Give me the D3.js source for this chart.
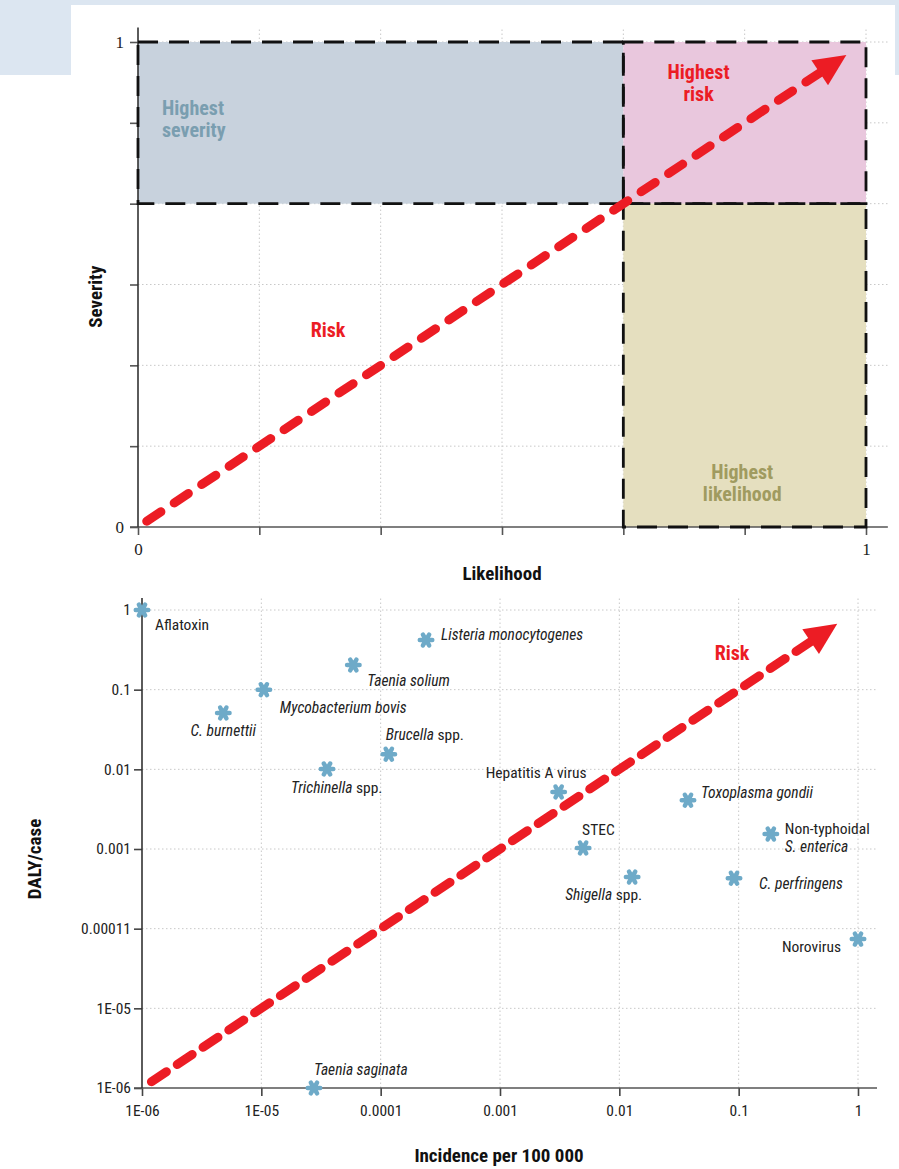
<!DOCTYPE html>
<html><head><meta charset="utf-8">
<script src="https://cdn.jsdelivr.net/npm/d3@7"></script>
<style>
html,body{margin:0;padding:0;background:#fff;}
svg{display:block;}
text{font-family:"Liberation Sans Narrow","Roboto Condensed","DejaVu Sans Condensed","Liberation Sans",sans-serif;}
</style></head>
<body>
<script>
// ---------- data ----------
const topTicks = [0, 1/6, 2/6, 3/6, 4/6, 5/6, 1];
const topTickLabels = ["0", "", "", "", "", "", "1"];
const zoneNames = ["Highest severity", "Highest risk", "Highest likelihood"];
const zoneX0 = [0, 4/6, 4/6];
const zoneX1 = [4/6, 1, 1];
const zoneY0 = [4/6, 4/6, 0];
const zoneY1 = [1, 1, 4/6];
const topArrowFrom = [0.012, 0.012];
const topArrowTo = [0.973, 0.973];

const pathogens = ["Aflatoxin","Listeria monocytogenes","Taenia solium","Mycobacterium bovis","C. burnettii","Brucella spp.","Trichinella spp.","Hepatitis A virus","Toxoplasma gondii","STEC","Non-typhoidal S. enterica","Shigella spp.","C. perfringens","Norovirus","Taenia saginata"];
const incidence = [1e-6, 2.4e-4, 5.9e-5, 1.05e-5, 4.8e-6, 1.17e-4, 3.55e-5, 3.1e-3, 0.0376, 4.97e-3, 0.186, 0.0128, 0.0914, 1.0, 2.76e-5];
const dalyPerCase = [1.0, 0.42, 0.204, 0.1, 0.051, 0.0155, 0.0101, 0.0052, 0.0041, 0.00103, 0.00154, 0.000445, 0.00043, 0.000074, 1e-6];
const logTicks = [1e-6, 1e-5, 1e-4, 1e-3, 1e-2, 1e-1, 1];
const xLogLabels = ["1E-06","1E-05","0.0001","0.001","0.01","0.1","1"];
const yLogLabels = ["1E-06","1E-05","0.00011","0.001","0.01","0.1","1"];
const bottomArrowFrom = [1.2e-6, 1.2e-6];
const bottomArrowTo = [0.67, 0.67];

// label text pieces [text, italic] per line
const labelPieces = [
  [[["Aflatoxin",false]]],
  [[["Listeria monocytogenes",true]]],
  [[["Taenia solium",true]]],
  [[["Mycobacterium bovis",true]]],
  [[["C. burnettii",true]]],
  [[["Brucella",true],[" spp.",false]]],
  [[["Trichinella",true],[" spp.",false]]],
  [[["Hepatitis A virus",false]]],
  [[["Toxoplasma gondii",true]]],
  [[["STEC",false]]],
  [[["Non-typhoidal",false]],[["S. enterica",true]]],
  [[["Shigella",true],[" spp.",false]]],
  [[["C. perfringens",true]]],
  [[["Norovirus",false]]],
  [[["Taenia saginata",true]]]
];
// label layout: [dx, dy, anchor] relative to the marker
const labelLayout = [
  [13, 14, "start"], [15, -6, "start"], [14, 16, "start"], [16, 18, "start"],
  [0, 18, "middle"], [-3, -20, "start"], [-36, 19, "start"], [-73, -19, "start"],
  [13, -8, "start"], [-1, -18, "start"], [14, -6, "start"], [-67, 17, "start"],
  [25, 5, "start"], [-17, 7, "end"], [0, -19, "start"]
];

// ---------- drawing ----------
const W = 899, H = 1169;
const svg = d3.select("body").append("svg").attr("width", W).attr("height", H);
const red = "#ec1c24", blue = "#6eaac8";

// frame
svg.append("rect").attr("x",0).attr("y",0).attr("width",W).attr("height",75).attr("fill","#dce6f1");
svg.append("rect").attr("x",71).attr("y",5).attr("width",824).attr("height",75).attr("fill","#fff");

// ===== top chart =====
const xT = d3.scaleLinear().domain([0,1]).range([138,866]);
const yT = d3.scaleLinear().domain([0,1]).range([527,42]);
const gT = svg.append("g");

gT.selectAll(".vg").data(topTicks.slice(1)).join("line")
  .attr("x1", d=>xT(d)).attr("x2", d=>xT(d)).attr("y1", yT(0)).attr("y2", yT(1.03))
  .attr("stroke","#c8c8c8").attr("stroke-width",1).attr("stroke-dasharray","1.5,2.5");
gT.selectAll(".hg").data(topTicks.slice(1)).join("line")
  .attr("x1", xT(0)).attr("x2", xT(1.03)).attr("y1", d=>yT(d)).attr("y2", d=>yT(d))
  .attr("stroke","#c8c8c8").attr("stroke-width",1).attr("stroke-dasharray","1.5,2.5");

const zoneFill = ["#c8d2dd", "#e9c7dd", "#e5dfbf"];
gT.selectAll(".zone").data(zoneNames).join("rect")
  .attr("x", (d,i)=>xT(zoneX0[i])).attr("width", (d,i)=>xT(zoneX1[i])-xT(zoneX0[i]))
  .attr("y", (d,i)=>yT(zoneY1[i])).attr("height", (d,i)=>yT(zoneY0[i])-yT(zoneY1[i]))
  .attr("fill", (d,i)=>zoneFill[i]);

const axXT = d3.axisBottom(xT).tickValues(topTicks).tickFormat((d,i)=>topTickLabels[i]).tickSize(8).tickPadding(8);
const axYT = d3.axisLeft(yT).tickValues(topTicks).tickFormat((d,i)=>topTickLabels[i]).tickSize(8).tickPadding(6);
const gx = gT.append("g").attr("transform",`translate(0,${yT(0)})`).call(axXT);
const gy = gT.append("g").attr("transform",`translate(${xT(0)},0)`).call(axYT);
[gx, gy].forEach(g=>{
  g.select(".domain").remove();
  g.selectAll(".tick line").attr("stroke","#555").attr("stroke-width",1.6);
  g.selectAll(".tick text").attr("font-size",17).attr("fill","#222").style("font-family",'"Liberation Serif",serif');
});
gT.append("line").attr("x1",xT(0)-8).attr("x2",xT(1.03)).attr("y1",yT(0)).attr("y2",yT(0)).attr("stroke","#555").attr("stroke-width",1.6);
gT.append("line").attr("x1",xT(0)).attr("x2",xT(0)).attr("y1",yT(0)).attr("y2",yT(1.03)).attr("stroke","#333").attr("stroke-width",1.6);

gT.selectAll(".zb").data(zoneNames).join("rect")
  .attr("x", (d,i)=>xT(zoneX0[i])).attr("width", (d,i)=>xT(zoneX1[i])-xT(zoneX0[i]))
  .attr("y", (d,i)=>yT(zoneY1[i])).attr("height", (d,i)=>yT(zoneY0[i])-yT(zoneY1[i]))
  .attr("fill","none").attr("stroke","#111").attr("stroke-width",2.8).attr("stroke-dasharray","20,11");

const zoneLabelColor = ["#7a9eb0", red, "#a09b60"];
const zoneLabelPos = [[0.033, 0.85, "start"], [0.77, 0.923, "middle"], [0.83, 0.1, "middle"]];
zoneNames.forEach((n,i)=>{
  const words = n.split(" ");
  const t = gT.append("text").attr("text-anchor", zoneLabelPos[i][2])
    .attr("font-size",20).attr("font-weight","bold").attr("fill", zoneLabelColor[i]);
  words.forEach((w,j)=>t.append("tspan").attr("x", xT(zoneLabelPos[i][0])).attr("y", yT(zoneLabelPos[i][1]) + j*22).text(w));
});
gT.append("text").attr("x", xT(0.261)).attr("y", yT(0.392)).attr("text-anchor","middle")
  .attr("font-size",20).attr("font-weight","bold").attr("fill",red).text("Risk");

gT.append("text").attr("transform",`translate(102,${yT(0.475)}) rotate(-90)`).attr("text-anchor","middle")
  .attr("font-size",19).attr("font-weight","bold").attr("fill","#111").text("Severity");
gT.append("text").attr("x", xT(0.5)).attr("y", 580).attr("text-anchor","middle")
  .attr("font-size",19).attr("font-weight","bold").attr("fill","#111").text("Likelihood");

function arrow(g, p0, p1, dash){
  const dx = p1[0]-p0[0], dy = p1[1]-p0[1];
  const L = Math.hypot(dx,dy), ux = dx/L, uy = dy/L;
  const headLen = 32, headW = 15;
  const bx = p1[0]-ux*headLen, by = p1[1]-uy*headLen;
  g.append("line").attr("x1",p0[0]).attr("y1",p0[1]).attr("x2",bx+ux*4).attr("y2",by+uy*4)
    .attr("stroke",red).attr("stroke-width",9).attr("stroke-linecap","round").attr("stroke-dasharray",dash);
  g.append("path").attr("d", `M${p1[0]},${p1[1]} L${bx - uy*headW},${by + ux*headW} L${bx + uy*headW},${by - ux*headW} Z`)
    .attr("fill",red);
}
arrow(gT, [xT(topArrowFrom[0]), yT(topArrowFrom[1])], [xT(topArrowTo[0]), yT(topArrowTo[1])], "17,16");

// ===== bottom chart =====
const xB = d3.scaleLog().domain([1e-6,1]).range([142,858]);
const yB = d3.scaleLog().domain([1e-6,1]).range([1088,610]);
const gB = svg.append("g");

gB.selectAll(".vg").data(logTicks.slice(1)).join("line")
  .attr("x1", d=>xB(d)).attr("x2", d=>xB(d)).attr("y1", yB(1e-6)).attr("y2", 598)
  .attr("stroke","#c8c8c8").attr("stroke-width",1).attr("stroke-dasharray","1.5,2.5");
gB.selectAll(".hg").data(logTicks.slice(1)).join("line")
  .attr("x1", xB(1e-6)).attr("x2", 877).attr("y1", d=>yB(d)).attr("y2", d=>yB(d))
  .attr("stroke","#c8c8c8").attr("stroke-width",1).attr("stroke-dasharray","1.5,2.5");

const axXB = d3.axisBottom(xB).tickValues(logTicks).tickFormat((d,i)=>xLogLabels[i]).tickSize(8).tickPadding(9);
const axYB = d3.axisLeft(yB).tickValues(logTicks).tickFormat((d,i)=>yLogLabels[i]).tickSize(8).tickPadding(3);
const gxb = gB.append("g").attr("transform",`translate(0,${yB(1e-6)})`).call(axXB);
const gyb = gB.append("g").attr("transform",`translate(${xB(1e-6)},0)`).call(axYB);
[gxb, gyb].forEach(g=>{
  g.select(".domain").remove();
  g.selectAll(".tick line").attr("stroke","#444").attr("stroke-width",1.6);
  g.selectAll(".tick text").attr("font-size",15.5).attr("fill","#222");
});
gB.append("line").attr("x1",xB(1e-6)-8).attr("x2",877).attr("y1",yB(1e-6)).attr("y2",yB(1e-6)).attr("stroke","#555").attr("stroke-width",1.6);
gB.append("line").attr("x1",xB(1e-6)).attr("x2",xB(1e-6)).attr("y1",yB(1e-6)).attr("y2",598).attr("stroke","#333").attr("stroke-width",1.6);

arrow(gB, [xB(bottomArrowFrom[0]), yB(bottomArrowFrom[1])], [xB(bottomArrowTo[0]), yB(bottomArrowTo[1])], "18,13");
gB.append("text").attr("x", xB(0.088)).attr("y", 660).attr("text-anchor","middle")
  .attr("font-size",20).attr("font-weight","bold").attr("fill",red).text("Risk");

const star = d3.symbol().type(d3.symbolAsterisk).size(110);
gB.selectAll(".pt").data(pathogens).join("path")
  .attr("transform",(d,i)=>`translate(${xB(incidence[i])},${yB(dalyPerCase[i])}) rotate(90)`)
  .attr("d", star).attr("fill","none").attr("stroke",blue).attr("stroke-width",4.5).attr("stroke-linecap","round");

pathogens.forEach((p,i)=>{
  const [dx,dy,anc] = labelLayout[i];
  const t = gB.append("text").attr("text-anchor",anc).attr("font-size",15.5).attr("fill","#222");
  const x0 = xB(incidence[i]) + dx, y0 = yB(dalyPerCase[i]) + dy + 5.5;
  labelPieces[i].forEach((line,j)=>{
    line.forEach((piece,k)=>{
      const ts = t.append("tspan").text(piece[0]).attr("font-style", piece[1] ? "italic" : "normal");
      if(k===0){ ts.attr("x", x0).attr("y", y0 + j*18); }
    });
  });
});

gB.append("text").attr("transform",`translate(41,${yB(0.00075)}) rotate(-90)`).attr("text-anchor","middle")
  .attr("font-size",19).attr("font-weight","bold").attr("fill","#111").text("DALY/case");
gB.append("text").attr("x", 499).attr("y", 1162).attr("text-anchor","middle")
  .attr("font-size",19).attr("font-weight","bold").attr("fill","#111").text("Incidence per 100 000");
</script>
</body></html>
